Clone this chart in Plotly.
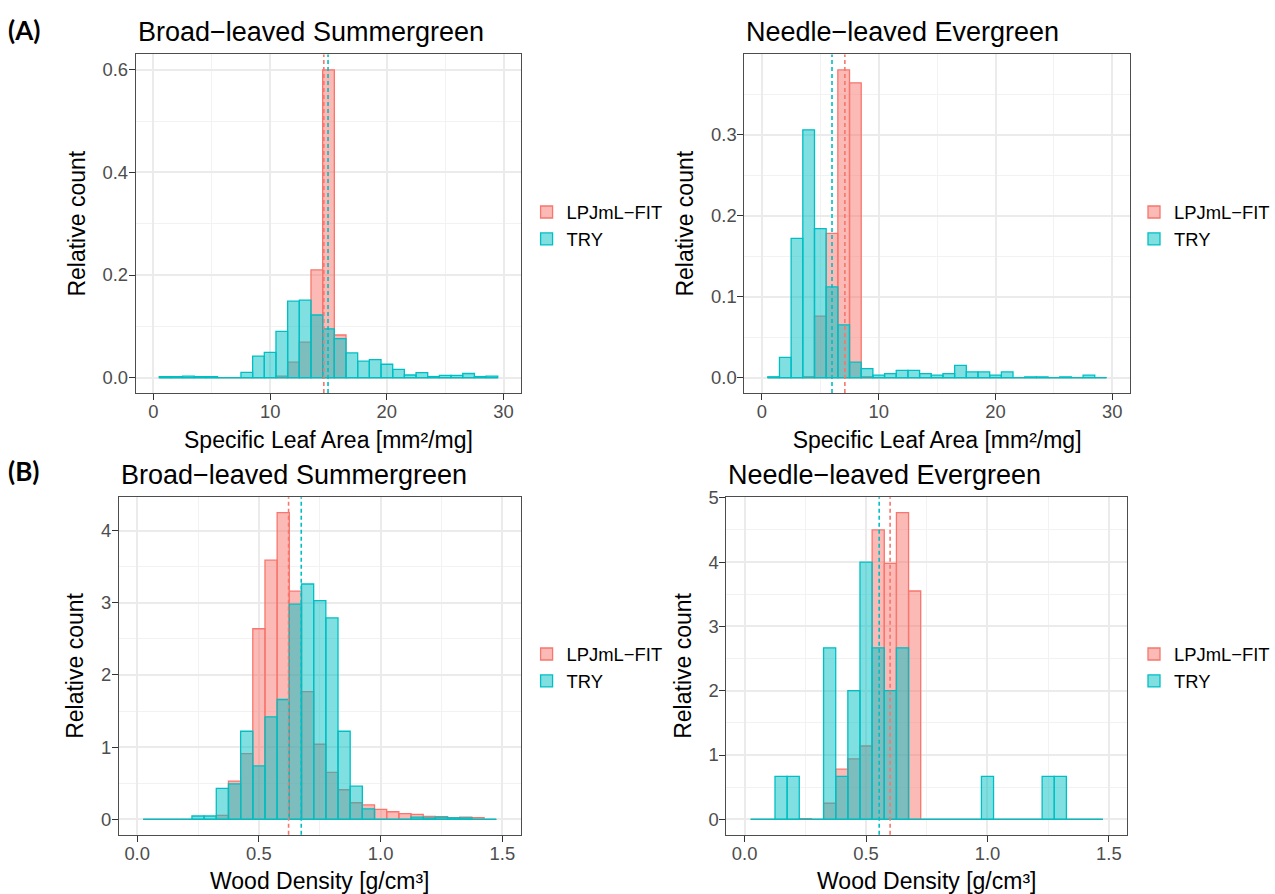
import plotly.graph_objects as go

# ---------------- data ----------------
# Specific Leaf Area histograms: bin centres (width 1 mm2/mg)
sla_bins = [1, 2, 3, 4, 5, 6, 7, 8, 9, 10, 11, 12, 13, 14, 15, 16, 17, 18, 19, 20,
            21, 22, 23, 24, 25, 26, 27, 28, 29]
sla_width = 1.0

# Broad-leaved Summergreen, SLA
bs_sla_lpj = [0, 0, 0, 0, 0, 0, 0, 0, 0, 0, 0.003, 0.030, 0.069, 0.210, 0.600, 0.083, 0, 0, 0, 0,
              0, 0, 0, 0, 0, 0, 0, 0, 0]
bs_sla_try = [0.002, 0.002, 0.003, 0.002, 0.002, 0, 0, 0.010, 0.042, 0.049, 0.090, 0.149, 0.151,
              0.122, 0.095, 0.076, 0.048, 0.032, 0.035, 0.026, 0.016, 0.005, 0.0096, 0.002,
              0.0045, 0.0045, 0.008, 0.002, 0.003]
# Needle-leaved Evergreen, SLA
ne_sla_lpj = [0, 0, 0, 0.001, 0.076, 0.178, 0.380, 0.364, 0.001, 0, 0, 0, 0, 0, 0, 0, 0, 0, 0, 0,
              0, 0, 0, 0, 0, 0, 0, 0, 0]
ne_sla_try = [0.001, 0.025, 0.172, 0.306, 0.184, 0.112, 0.065, 0.019, 0.011, 0.003, 0.005, 0.009,
              0.009, 0.005, 0.003, 0.005, 0.015, 0.007, 0.007, 0.003, 0.007, 0, 0.001, 0.001, 0,
              0.001, 0, 0.003, 0]

# Wood density histograms: bin centres (width 0.05 g/cm3)
wd_bins = [0.05, 0.10, 0.15, 0.20, 0.25, 0.30, 0.35, 0.40, 0.45, 0.50, 0.55, 0.60, 0.65, 0.70,
           0.75, 0.80, 0.85, 0.90, 0.95, 1.00, 1.05, 1.10, 1.15, 1.20, 1.25, 1.30, 1.35, 1.40, 1.45]
wd_width = 0.05

bs_wd_lpj = [0, 0, 0, 0, 0, 0, 0.055, 0.53, 0.91, 2.64, 3.59, 4.25, 3.16, 1.77, 1.04, 0.65, 0.41,
             0.23, 0.20, 0.137, 0.105, 0.08, 0.07, 0.04, 0.036, 0.023, 0.03, 0.023, 0]
bs_wd_try = [0, 0, 0, 0, 0.046, 0.046, 0.43, 0.49, 1.22, 0.74, 1.42, 1.66, 2.98, 3.26, 3.03, 2.79,
             1.22, 0.46, 0.146, 0, 0, 0, 0.03, 0.02, 0.03, 0.02, 0.02, 0, 0]
ne_wd_lpj = [0, 0, 0, 0, 0.01, 0, 0.25, 0.78, 0.94, 1.14, 4.50, 3.98, 4.77, 3.55, 0, 0, 0, 0, 0, 0,
             0, 0, 0, 0, 0, 0, 0, 0, 0]
ne_wd_try = [0, 0, 0.667, 0.667, 0, 0, 2.667, 0.667, 2.0, 4.0, 2.667, 2.0, 2.667, 0, 0, 0, 0, 0, 0,
             0.667, 0, 0, 0, 0, 0.667, 0.667, 0, 0, 0]

# means (dashed lines)
mean_lpj = [14.60, 7.10, 0.622, 0.599]
mean_try = [14.96, 6.00, 0.674, 0.554]

titles = ["Broad\u2212leaved Summergreen", "Needle\u2212leaved Evergreen",
          "Broad\u2212leaved Summergreen", "Needle\u2212leaved Evergreen"]
xtitles = ["Specific Leaf Area [mm\u00b2/mg]", "Specific Leaf Area [mm\u00b2/mg]",
           "Wood Density [g/cm\u00b3]", "Wood Density [g/cm\u00b3]"]
series_names = ["LPJmL\u2212FIT", "TRY"]
row_labels = ["(A)", "(B)"]

# ---------------- styling ----------------
FONT = "Liberation Sans, Arial, sans-serif"
RED, CYAN = "#F8766D", "#00BFC4"
RED_FILL, CYAN_FILL = "rgba(248,118,109,0.5)", "rgba(0,191,196,0.5)"
W, H = 1275, 894


def fx(px):
    return px / W


def fy(py):
    return 1 - py / H


panels = [
    dict(bins=sla_bins, w=sla_width, lpj=bs_sla_lpj, tr=bs_sla_try, xlim=(0, 30), xd=10, yd=0.2,
         yfmt=".1f", xfmt="d", px=(136, 521.5), py=(45, 387.3), leg=(527, 218)),
    dict(bins=sla_bins, w=sla_width, lpj=ne_sla_lpj, tr=ne_sla_try, xlim=(0, 30), xd=10, yd=0.1,
         yfmt=".1f", xfmt="d", px=(745, 1130.7), py=(45, 387.3), leg=(1135, 218)),
    dict(bins=wd_bins, w=wd_width, lpj=bs_wd_lpj, tr=bs_wd_try, xlim=(0, 1.5), xd=0.5, yd=1,
         yfmt="d", xfmt=".1f", px=(119, 521), py=(492.7, 834), leg=(527, 665)),
    dict(bins=wd_bins, w=wd_width, lpj=ne_wd_lpj, tr=ne_wd_try, xlim=(0, 1.5), xd=0.5, yd=1,
         yfmt="d", xfmt=".1f", px=(727, 1128), py=(492.7, 834), leg=(1135, 665)),
]

fig = go.Figure()
layout = dict(width=W, height=H, margin=dict(l=0, r=0, t=0, b=0), autosize=False,
              paper_bgcolor="white", plot_bgcolor="white", barmode="overlay",
              font=dict(family=FONT, color="black"), showlegend=True)
shapes, annotations = [], []

for i, p in enumerate(panels):
    k = "" if i == 0 else str(i + 1)
    xa, ya = "x" + k, "y" + k
    leg = "legend" + k
    fig.add_trace(go.Bar(x=p["bins"], y=p["lpj"], width=p["w"], name=series_names[0],
                         marker=dict(color=RED_FILL, line=dict(color=RED, width=1.3)),
                         xaxis=xa, yaxis=ya, legend=leg, hoverinfo="x+y"))
    fig.add_trace(go.Bar(x=p["bins"], y=p["tr"], width=p["w"], name=series_names[1],
                         marker=dict(color=CYAN_FILL, line=dict(color=CYAN, width=1.3)),
                         xaxis=xa, yaxis=ya, legend=leg, hoverinfo="x+y"))
    # zero-height bins drawn as a baseline, like ggplot's outline
    edge0 = p["bins"][0] - p["w"] / 2
    edge1 = p["bins"][-1] + p["w"] / 2
    fig.add_trace(go.Scatter(x=[edge0, edge1], y=[0, 0], mode="lines",
                             line=dict(color=CYAN, width=1.3), showlegend=False,
                             hoverinfo="skip", xaxis=xa, yaxis=ya))

    ymax = max(max(p["lpj"]), max(p["tr"]))
    xl0, xl1 = p["xlim"]
    xpad = 0.05 * (xl1 - xl0)
    dom_x = [fx(p["px"][0]), fx(p["px"][1])]
    dom_y = [fy(p["py"][1]), fy(p["py"][0])]
    common = dict(showline=True, mirror=True, linecolor="#4D4D4D", linewidth=1.2,
                  ticks="outside", ticklen=6, tickwidth=1.2, tickcolor="#333333",
                  showgrid=True, gridcolor="#EBEBEB", gridwidth=1.6, zeroline=False,
                  tickfont=dict(family=FONT, size=18.4, color="#4D4D4D"))
    layout["xaxis" + k] = dict(common, domain=dom_x, anchor=ya,
                               range=[xl0 - xpad, xl1 + xpad], dtick=p["xd"], tick0=0,
                               tickformat=p["xfmt"], ticklabelstandoff=-4,
                               minor=dict(dtick=p["xd"] / 2, tick0=0, showgrid=True,
                                          gridcolor="#F2F2F2", gridwidth=0.9),
                               title=dict(text=xtitles[i], standoff=10,
                                          font=dict(family=FONT, size=23, color="black")))
    layout["yaxis" + k] = dict(common, domain=dom_y, anchor=xa,
                               range=[-0.05 * ymax, 1.05 * ymax], dtick=p["yd"], tick0=0,
                               tickformat=p["yfmt"], ticklabelstandoff=-3,
                               minor=dict(dtick=p["yd"] / 2, tick0=0, showgrid=True,
                                          gridcolor="#F2F2F2", gridwidth=0.9),
                               title=dict(text="Relative count", standoff=10,
                                          font=dict(family=FONT, size=23, color="black")))
    layout[leg] = dict(x=fx(p["leg"][0]), y=fy(p["leg"][1]), xanchor="left",
                       yanchor="middle", bgcolor="rgba(0,0,0,0)", borderwidth=0,
                       font=dict(family=FONT, size=18.4, color="black"),
                       tracegroupgap=0, itemwidth=30)

    for m, col in ((mean_lpj[i], RED), (mean_try[i], CYAN)):
        shapes.append(dict(type="line", xref=xa, yref=ya + " domain", x0=m, x1=m, y0=0, y1=1,
                           line=dict(color=col, width=1.6, dash="4px,3px"), layer="above"))

    annotations.append(dict(text=titles[i], xref=xa + " domain", yref=ya + " domain", x=0, y=1,
                            xanchor="left", yanchor="bottom", yshift=5, showarrow=False,
                            font=dict(family=FONT, size=27, color="black")))

for r, lab in enumerate(row_labels):
    annotations.append(dict(text="<b>" + lab + "</b>", xref="paper", yref="paper",
                            x=fx(6), y=fy(20 if r == 0 else 466), xanchor="left",
                            yanchor="middle", showarrow=False,
                            font=dict(family="Lato, Liberation Sans, sans-serif", size=26,
                                      color="black")))

layout["shapes"] = shapes
layout["annotations"] = annotations
fig.update_layout(**layout)
fig.write_html("out.html")
